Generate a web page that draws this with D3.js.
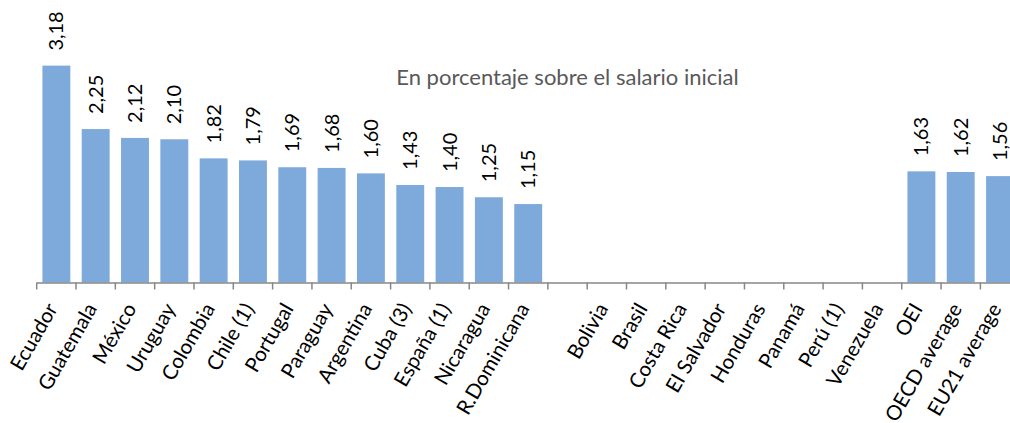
<!DOCTYPE html>
<html lang="es">
<head>
<meta charset="UTF-8">
<title>En porcentaje sobre el salario inicial</title>
<style>
  html, body { margin: 0; padding: 0; background: #fff; }
  svg { display: block; font-family: Lato, "Open Sans", sans-serif; }
</style>
</head>
<body>
<div id="chart"></div>
<script src="https://d3js.org/d3.v7.min.js"></script>
<script>
// chart data
const categories = ["Ecuador", "Guatemala", "México", "Uruguay", "Colombia", "Chile (1)", "Portugal",
  "Paraguay", "Argentina", "Cuba (3)", "España (1)", "Nicaragua", "R.Dominicana", " ",
  "Bolivia", "Brasil", "Costa Rica", "El Salvador", "Honduras", "Panamá", "Perú (1)", "Venezuela",
  "OEI", "OECD average", "EU21 average"];
const values = [3.18, 2.25, 2.12, 2.10, 1.82, 1.79, 1.69, 1.68, 1.60, 1.43, 1.40, 1.25, 1.15, null,
  null, null, null, null, null, null, null, null,
  1.63, 1.62, 1.56];
const valueLabels = ["3,18", "2,25", "2,12", "2,10", "1,82", "1,79", "1,69", "1,68", "1,60", "1,43",
  "1,40", "1,25", "1,15", "", "", "", "", "", "", "", "", "", "1,63", "1,62", "1,56"];
const title = "En porcentaje sobre el salario inicial";

const W = 1010, H = 423;
const svg = d3.select("#chart").append("svg")
    .attr("width", W)
    .attr("height", H);

const x = d3.scaleBand()
    .domain(categories)
    .range([36.7, 1019.7])
    .paddingInner(0.29)
    .paddingOuter(0.145);

const y = d3.scaleLinear()
    .domain([0, 3.5])
    .range([282.5, 43.8]);

const data = categories.map((c, i) => ({cat: c, v: values[i], lbl: valueLabels[i]}));

// title
svg.append("text")
    .attr("x", 567.5)
    .attr("y", 85)
    .attr("text-anchor", "middle")
    .attr("fill", "#595959")
    .style("font-size", "22px")
    .text(title);

// bars
svg.selectAll("rect.bar")
    .data(data.filter(d => d.v != null))
    .enter().append("rect")
    .attr("class", "bar")
    .attr("x", d => x(d.cat))
    .attr("width", x.bandwidth())
    .attr("y", d => y(d.v))
    .attr("height", d => y(0) - y(d.v))
    .attr("fill", "#7EAADB");

// value labels
svg.selectAll("text.val")
    .data(data.filter(d => d.v != null))
    .enter().append("text")
    .attr("class", "val")
    .attr("transform", d => `translate(${x(d.cat) + x.bandwidth() / 2 + 7},${y(d.v) - 15}) rotate(-90)`)
    .attr("fill", "#000")
    .style("font-size", "20px")
    .text(d => d.lbl);

// axis line and ticks at band boundaries
const step = x.step();
const x0 = x.range()[0];
svg.append("line")
    .attr("x1", x0).attr("x2", x.range()[1])
    .attr("y1", y(0) + 0.5).attr("y2", y(0) + 0.5)
    .attr("stroke", "#878787")
    .attr("stroke-width", 1.5);

svg.selectAll("line.tick")
    .data(d3.range(categories.length + 1))
    .enter().append("line")
    .attr("class", "tick")
    .attr("x1", i => x0 + i * step).attr("x2", i => x0 + i * step)
    .attr("y1", y(0)).attr("y2", y(0) + 7)
    .attr("stroke", "#878787")
    .attr("stroke-width", 1.5);

// category labels
svg.selectAll("text.cat")
    .data(categories)
    .enter().append("text")
    .attr("class", "cat")
    .attr("transform", d => `translate(${x(d) + x.bandwidth() / 2 + 2},${y(0) + 26}) rotate(-60)`)
    .attr("text-anchor", "end")
    .attr("fill", "#000")
    .style("font-size", "20.5px")
    .text(d => d);
</script>
</body>
</html>
